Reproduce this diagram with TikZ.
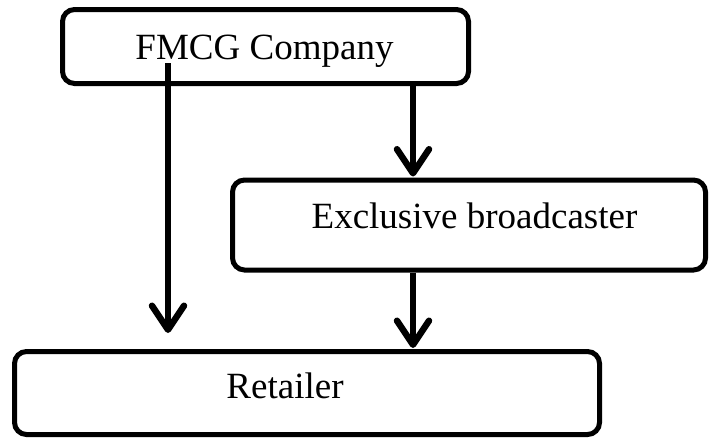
\documentclass[tikz,border=0pt]{standalone}
\usepackage{fontspec}
\setmainfont{Liberation Serif}
\usetikzlibrary{arrows.meta}

\begin{document}
\begin{tikzpicture}[x=1pt,y=-1pt,
  box/.style={draw=black, line width=5pt, rounded corners=12pt, inner sep=0pt},
  lbl/.style={anchor=base, inner sep=0pt, font=\fontsize{37}{44}\selectfont},
  flow/.style={draw=black, line width=6.5pt,
    -{Straight Barb[length=24pt,width=32pt,line cap=round,line join=round]},
    preaction={draw=gray!55, transform canvas={shift={(0pt,-2pt)}}}}]
\useasboundingbox (0,0) rectangle (709,439);
% boxes
\node [box, minimum width=406pt, minimum height=74pt] (fmcg) at (265.5,46.5) {};
\node [box, minimum width=473pt, minimum height=90pt] (bcast) at (469,225) {};
\node [box, minimum width=585pt, minimum height=83pt] (retail) at (307,393) {};
% texts
\node [lbl] (fmcgtxt) at (264.5,59) {FMCG Company};
\node [lbl] (bcasttxt) at (474.5,228) {Exclusive broadcaster};
\node [lbl] (retailtxt) at (285,398) {Retailer};
% arrows
\coordinate (split) at (168,63);
\coordinate (tap) at (413,0);
\draw [flow, shorten >=16pt] (split) -- (split |- retail.north);
\draw [flow, shorten >=1pt] (tap |- fmcg.south) -- (tap |- bcast.north);
\draw [flow, shorten >=1pt] (tap |- bcast.south) -- (tap |- retail.north);
\end{tikzpicture}
\end{document}
